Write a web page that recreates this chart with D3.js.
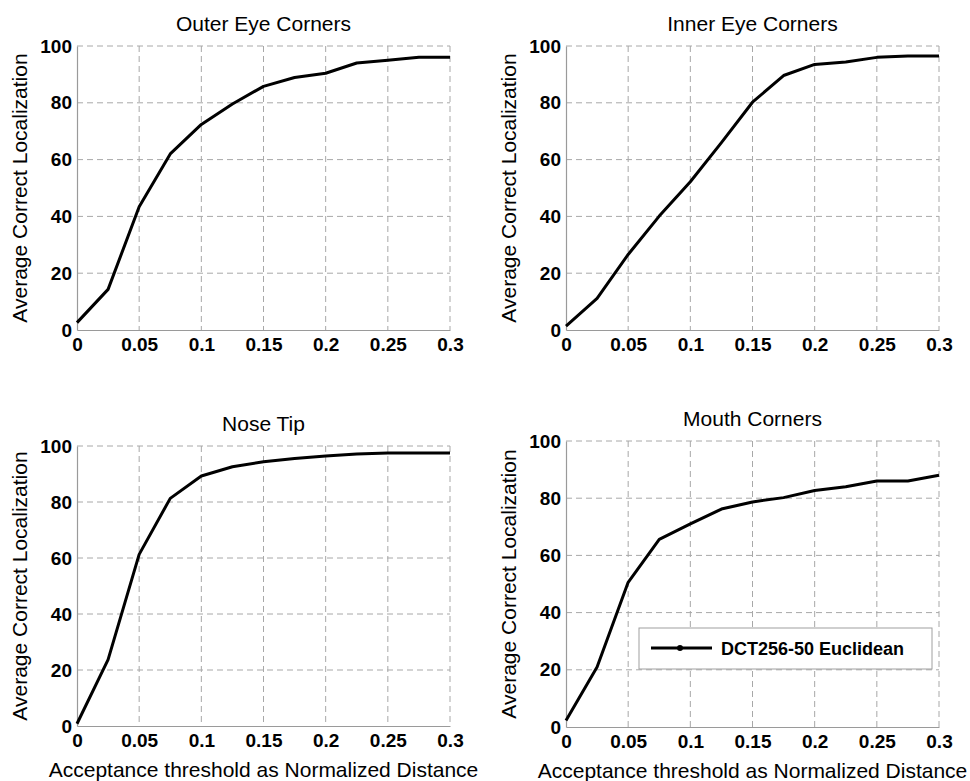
<!DOCTYPE html>
<html>
<head>
<meta charset="utf-8">
<script src="https://cdn.jsdelivr.net/npm/d3@7"></script>
<style>
  body { margin: 0; background: #fff; }
  svg { display: block; font-family: "Liberation Sans", Arial, Helvetica, sans-serif; }
</style>
</head>
<body>
<div id="chart"></div>
<script>
// thresholds (normalized distance), shared by every panel
const thresholds = [0, 0.025, 0.05, 0.075, 0.1, 0.125, 0.15, 0.175, 0.2, 0.225, 0.25, 0.275, 0.3];

const panelTitles = ["Outer Eye Corners", "Inner Eye Corners", "Nose Tip", "Mouth Corners"];

// average correct localization (%)
const outerEye = [2.6, 14.3, 43.4, 62.0, 72.4, 79.6, 85.8, 88.9, 90.4, 94.0, 95.0, 96.0, 96.0];
const innerEye = [1.4, 11.1, 26.6, 40.1, 52.2, 66.0, 80.2, 89.6, 93.5, 94.4, 96.0, 96.5, 96.5];
const noseTip  = [0.8, 23.7, 61.3, 81.3, 89.3, 92.6, 94.4, 95.5, 96.4, 97.1, 97.5, 97.5, 97.5];
const mouth    = [2.3, 21.0, 50.6, 65.6, 71.0, 76.2, 78.7, 80.2, 82.7, 84.0, 86.0, 86.0, 88.0];

const seriesList = [outerEye, innerEye, noseTip, mouth];

const xTicks = [0, 0.05, 0.1, 0.15, 0.2, 0.25, 0.3];
const yTicks = [0, 20, 40, 60, 80, 100];

const legendLabel = "DCT256-50 Euclidean";
const yLabel = "Average Correct Localization";
const xLabel = "Acceptance threshold as Normalized Distance";

// plot boxes in page pixels
const layout = [
  { left: 77,  right: 450, top: 46,  bottom: 330, xTitle: false },
  { left: 566, right: 939, top: 46,  bottom: 330, xTitle: false },
  { left: 77,  right: 450, top: 446, bottom: 726, xTitle: true },
  { left: 566, right: 939, top: 441, bottom: 727, xTitle: true, legend: true }
];

const svg = d3.select("#chart").append("svg")
  .attr("width", 970)
  .attr("height", 781);

const gridColor = "#a8a8a8";
const axisColor = "#9a9a9a";

layout.forEach((box, i) => {
  const width = box.right - box.left;
  const height = box.bottom - box.top;
  const data = thresholds.map((t, k) => ({ x: t, y: seriesList[i][k] }));

  const xScale = d3.scaleLinear().domain([0, 0.3]).range([0, width]);
  const yScale = d3.scaleLinear().domain([0, 100]).range([height, 0]);

  const g = svg.append("g")
    .attr("transform", `translate(${box.left},${box.top})`);

  // dashed grid
  g.append("g").selectAll("line")
    .data(xTicks.slice(1))
    .enter().append("line")
      .attr("x1", d => xScale(d)).attr("x2", d => xScale(d))
      .attr("y1", 0).attr("y2", height)
      .attr("stroke", gridColor)
      .attr("stroke-width", 1)
      .attr("stroke-dasharray", "6,4");

  g.append("g").selectAll("line")
    .data(yTicks.slice(1))
    .enter().append("line")
      .attr("x1", 0).attr("x2", width)
      .attr("y1", d => yScale(d)).attr("y2", d => yScale(d))
      .attr("stroke", gridColor)
      .attr("stroke-width", 1)
      .attr("stroke-dasharray", "6,4");

  // axes
  const xAxis = d3.axisBottom(xScale)
    .tickValues(xTicks)
    .tickSize(0)
    .tickPadding(8)
    .tickFormat(d => String(+d.toFixed(2)));

  const yAxis = d3.axisLeft(yScale)
    .tickValues(yTicks)
    .tickSize(0)
    .tickPadding(5);

  const gx = g.append("g")
    .attr("transform", `translate(0,${height})`)
    .call(xAxis);

  const gy = g.append("g").call(yAxis);

  [gx, gy].forEach(ax => {
    ax.select(".domain").attr("stroke", axisColor).attr("stroke-width", 1.2);
    ax.selectAll("text")
      .attr("fill", "#000")
      .style("font-size", "19px")
      .style("font-weight", "bold")
      .style("font-family", "'Liberation Sans', Arial, sans-serif");
  });
  gx.selectAll("text").attr("dy", "0.71em");

  // the curve
  const line = d3.line()
    .x(d => xScale(d.x))
    .y(d => yScale(d.y));

  g.append("path")
    .datum(data)
    .attr("d", line)
    .attr("fill", "none")
    .attr("stroke", "#000")
    .attr("stroke-width", 3)
    .attr("stroke-linejoin", "round");

  // title
  g.append("text")
    .attr("x", width / 2)
    .attr("y", -15)
    .attr("text-anchor", "middle")
    .style("font-size", "21px")
    .text(panelTitles[i]);

  // y label
  g.append("text")
    .attr("transform", "rotate(-90)")
    .attr("x", -height / 2)
    .attr("y", -50)
    .attr("text-anchor", "middle")
    .style("font-size", "21px")
    .text(yLabel);

  if (box.xTitle) {
    g.append("text")
      .attr("x", width / 2)
      .attr("y", height + 51)
      .attr("text-anchor", "middle")
      .style("font-size", "21px")
      .text(xLabel);
  }

  if (box.legend) {
    // legend box sits at page (639, 628)
    const lw = 293, lh = 41;
    const lg = g.append("g").attr("transform", `translate(${639 - box.left},${628 - box.top})`);
    lg.append("rect")
      .attr("width", lw).attr("height", lh)
      .attr("fill", "#fff")
      .attr("stroke", "#a0a0a0")
      .attr("stroke-width", 1);
    lg.append("line")
      .attr("x1", 12).attr("x2", 73)
      .attr("y1", 20).attr("y2", 20)
      .attr("stroke", "#000")
      .attr("stroke-width", 3);
    lg.append("circle")
      .attr("cx", 41).attr("cy", 20).attr("r", 3)
      .attr("fill", "#000");
    lg.append("text")
      .attr("x", 82).attr("y", 27)
      .style("font-size", "18px")
      .style("font-weight", "bold")
      .text(legendLabel);
  }
});
</script>
</body>
</html>
